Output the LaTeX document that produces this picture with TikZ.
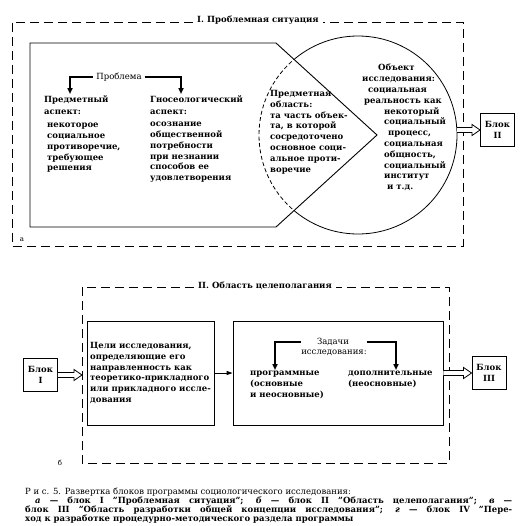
\documentclass[tikz,border=0pt]{standalone}
\usepackage{fontspec}
\setmainfont{DejaVu Serif}
\usetikzlibrary{calc, arrows.meta}

% hollow (outlined) arrow between two points on one level
\newcommand{\hollowarrow}[2]{%
  \filldraw[fill=white, line width=0.8pt, line join=miter]
    ($(#1)+(0,2.5)$) -- ($(#2)+(-8,2.5)$) -- ($(#2)+(-8,5.5)$) -- (#2)
    -- ($(#2)+(-8,-5.5)$) -- ($(#2)+(-8,-2.5)$) -- ($(#1)+(0,-2.5)$);}

\begin{document}
\begin{tikzpicture}[x=1pt, y=-1pt,
	every node/.style={font=\fontsize{8.5}{10.8}\selectfont\bfseries, inner sep=0pt},
	frame/.style={line width=0.9pt, dash pattern=on 9pt off 5pt},
	framehead/.style={inner xsep=4pt},
	box/.style={draw, line width=0.9pt},
	txt/.style={anchor=north west, align=left},
	elbow/.style={line width=1.6pt, shorten >=1pt, -{Triangle[length=6pt, width=5pt]}},
	blok/.style={draw, line width=0.9pt, align=center, minimum width=34pt, minimum height=33pt},
	smalllab/.style={font=\fontsize{7}{8}\selectfont\mdseries}]
	
	\useasboundingbox (0,0) rectangle (529,525);
	
	% --- a: problem situation ---
	\node[framehead] (title1) at (258,20) {I. Проблемная ситуация};
	\coordinate (f1nw) at (12,22);
	\coordinate (f1se) at (463,246);
	\draw[frame] (title1.west |- f1nw) -- (f1nw) -- (f1nw |- f1se) -- (f1se)
	-- (f1se |- f1nw) -- (title1.east |- f1nw);
	
	% object circle (solid part), then the pentagon on top of it
	\coordinate (objc) at (358,135);
	\draw[line width=0.8pt] (objc) circle[radius=99];
	\filldraw[fill=white, line width=0.9pt, line join=miter]
	(30,43) -- (276,43) -- (377,135) -- (276,227) -- (30,227) -- cycle;
	\begin{scope}
		\clip (30,43) -- (276,43) -- (377,135) -- (276,227) -- (30,227) -- cycle;
		\draw[line width=0.8pt, dash pattern=on 4pt off 2.5pt] (objc) circle[radius=99];
	\end{scope}
	
	% Problem
	\node[inner xsep=3pt] (probl) at (119,77) {\mdseries Проблема};
	\node[txt] (subjhd) at (44,95) {Предметный\\[2pt]аспект:};
	\node[txt] (subjtx) at (47,123) {некоторое\\социальное\\противоречие,\\требующее\\решения};
	\node[txt] (gnoshd) at (150,95) {Гносеологический\\[2pt]аспект:};
	\node[txt] (gnostx) at (150,122) {осознание\\общественной\\потребности\\при незнании\\способов ее\\удовлетворения};
	\draw[elbow] (probl.west) -| ([xshift=26pt]subjhd.north west);
	\draw[elbow] (probl.east) -| ([xshift=31pt]gnoshd.north west);
	
	% Subject domain
	\node[txt] (domain) at (270,90) {Предметная\\область:\\та часть объек-\\та, в которой\\сосредоточено\\основное соци-\\альное проти-\\воречие};
	
	% Object
	\node[txt] (object) at (362,64) {\hspace*{16pt}Объект\\исследования:\\\hspace*{6pt}социальная\\\hspace*{2pt}реальность как\\\hspace*{22pt}некоторый\\\hspace*{22pt}социальный\\\hspace*{26pt}процесс,\\\hspace*{22pt}социальная\\\hspace*{22pt}общность,\\\hspace*{22pt}социальный\\\hspace*{22pt}институт\\\hspace*{25pt}и т.д.};
	
	\node[smalllab] (labA) at (22,240) {а};
	
	% Block II
	\node[blok] (blok2) at (497.5,130) {Блок\\II};
	\coordinate (objE) at (457,130);
	\hollowarrow{objE}{blok2.west}
	
	% --- b: goal setting ---
	\node[framehead] (title2) at (265,286) {II. Область целеполагания};
	\coordinate (f2nw) at (82,287);
	\coordinate (f2se) at (449,463);
	\draw[frame] (title2.west |- f2nw) -- (f2nw) -- (f2nw |- f2se) -- (f2se)
	-- (f2se |- f2nw) -- (title2.east |- f2nw);
	
	\node[box, minimum width=127pt, minimum height=104pt, align=left] (goals) at (150.5,373)
	{Цели исследования,\\определяющие его\\направленность как\\теоретико-прикладного\\или прикладного иссле-\\дования};
	\node[box, minimum width=210pt, minimum height=104pt] (tasks) at (338,373) {};
	\draw[line width=0.9pt, -{Triangle[length=6pt, width=4pt]}] (goals.east) -- (tasks.west);
	
	% Tasks
	\node (taskhd) at (333,342) {\mdseries Задачи};
	\node (taskhd2) at (334,353) {\mdseries исследования:};
	\node[txt] (prog) at (250,371) {программные\\(основные\\и неосновные)};
	\node[txt] (extra) at (348,371) {дополнительные\\(неосновные)};
	\draw[elbow] (taskhd -| taskhd2.west) -| ([xshift=25pt]prog.north west);
	\draw[elbow] (taskhd -| taskhd2.east) -| ([xshift=48pt]extra.north west);
	
	\node[smalllab] (labB) at (60,463) {б};
	
	% Blocks I and III
	\node[blok] (blok1) at (40.5,375) {Блок\\I};
	\coordinate (goalsIn) at (f2nw |- blok1.east);
	\hollowarrow{blok1.east}{goalsIn}
	\node[blok] (blok3) at (489,373) {Блок\\III};
	\hollowarrow{tasks.east}{blok3.west}
	
	% --- caption ---
	\node[anchor=north west, text width=487pt, align=justify,
	font=\fontsize{8.5}{9.2}\selectfont\bfseries] (capt) at (25,487.5)
	{{\mdseries Р и с. 5. Развертка блоков программы социологического исследования:}\par
		\hspace*{10pt}\textit{а} — блок I "Проблемная ситуация"; \textit{б} — блок II "Область целеполагания"; \textit{в} —\linebreak
		блок III "Область разработки общей концепции исследования"; \textit{г} — блок IV "Пере-\linebreak
		ход к разработке процедурно-методического раздела программы};
	
\end{tikzpicture}
\end{document}
